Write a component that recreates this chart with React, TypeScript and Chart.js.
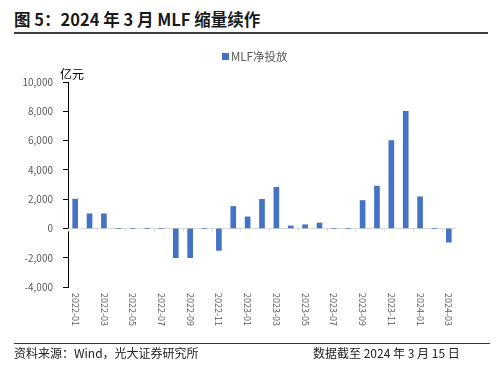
import React, { useEffect, useRef } from "react";
import { Chart, registerables } from "chart.js";

Chart.register(...registerables);

const categories = [
  "2022-01", "2022-02", "2022-03", "2022-04", "2022-05", "2022-06", "2022-07",
  "2022-08", "2022-09", "2022-10", "2022-11", "2022-12",
  "2023-01", "2023-02", "2023-03", "2023-04", "2023-05", "2023-06", "2023-07",
  "2023-08", "2023-09", "2023-10", "2023-11", "2023-12",
  "2024-01", "2024-02", "2024-03",
];
const netInjection = [
  2000, 1000, 1000, 0, 0, 0, 0, -2000, -2000, 0, -1500, 1500,
  790, 1990, 2810, 170, 250, 370, 0, 0, 1910, 2890, 6000, 8000,
  2160, 0, -940,
];
const seriesName = "MLF净投放";
const yMin = -4000;
const yMax = 10000;
const yStep = 2000;

const FONT = '"Noto Sans CJK SC", "Noto Sans", sans-serif';
const BAR_COLOR = "#4472C4";

const xLabelPlugin = {
  id: "xLabels",
  afterDraw(chart: any) {
    const xs = chart.scales.x;
    const ys = chart.scales.y;
    const ctx = chart.ctx;
    const n = categories.length;
    const step = xs.getPixelForValue(1) - xs.getPixelForValue(0);
    const y0 = Math.round(ys.getPixelForValue(0)) + 0.5;
    ctx.save();
    ctx.strokeStyle = "#d9d9d9";
    ctx.lineWidth = 1;
    for (let i = 0; i <= n; i += 2) {
      const px = i < n ? xs.getPixelForValue(i) - step / 2 : chart.chartArea.right;
      const rx = Math.round(px) + 0.5;
      ctx.beginPath();
      ctx.moveTo(rx, y0);
      ctx.lineTo(rx, y0 + 3);
      ctx.stroke();
    }
    ctx.fillStyle = "#595959";
    ctx.font = `9px ${FONT}`;
    ctx.textAlign = "left";
    ctx.textBaseline = "middle";
    for (let i = 0; i < n; i += 2) {
      ctx.save();
      ctx.translate(xs.getPixelForValue(i), chart.chartArea.bottom + 6);
      ctx.rotate(Math.PI / 2);
      ctx.fillText(categories[i], 0, 0);
      ctx.restore();
    }
    ctx.restore();
  },
};

export default function App() {
  const canvasRef = useRef<HTMLCanvasElement | null>(null);

  useEffect(() => {
    const canvas = canvasRef.current;
    if (!canvas) return;
    const chart = new Chart(canvas, {
      type: "bar",
      data: {
        labels: categories,
        datasets: [
          {
            label: seriesName,
            data: netInjection,
            backgroundColor: BAR_COLOR,
            barThickness: 5,
          },
        ],
      },
      options: {
        animation: false,
        responsive: false,
        devicePixelRatio: 1,
        layout: { padding: { top: 82, right: 44, left: 0, bottom: 0 } },
        plugins: {
          legend: { display: false },
          tooltip: { enabled: false },
          title: { display: false },
        },
        scales: {
          x: {
            type: "category",
            offset: true,
            grid: { display: false },
            border: { display: false },
            ticks: { display: false },
            afterFit: (scale: any) => {
              scale.height = 81;
            },
          },
          y: {
            min: yMin,
            max: yMax,
            ticks: {
              stepSize: yStep,
              color: "#595959",
              font: { size: 10, family: FONT },
              padding: 10,
            },
            grid: {
              drawTicks: true,
              tickLength: 5,
              tickColor: "#000000",
              color: (ctx: any) =>
                ctx.tick && ctx.tick.value === 0 ? "#d9d9d9" : "rgba(0,0,0,0)",
            },
            border: { display: true, color: "#000000", width: 1 },
            afterFit: (scale: any) => {
              scale.width = 68;
            },
          },
        },
      },
      plugins: [xLabelPlugin],
    });
    return () => chart.destroy();
  }, []);

  return (
    <div
      style={{
        position: "relative",
        width: 500,
        height: 368,
        background: "#ffffff",
        fontFamily: FONT,
        overflow: "hidden",
      }}
    >
      <style>{`body{margin:0;}`}</style>
      <div
        style={{
          position: "absolute",
          left: 14,
          top: 10,
          fontSize: 16.5,
          lineHeight: "18px",
          fontWeight: 700,
          color: "#1a1a1a",
          whiteSpace: "nowrap",
        }}
      >
        图 5：2024 年 3 月 MLF 缩量续作
      </div>
      <div
        style={{
          position: "absolute",
          left: 14,
          top: 32,
          width: 474,
          height: 2,
          background: "#404040",
        }}
      />
      <canvas
        ref={canvasRef}
        width={500}
        height={368}
        style={{ position: "absolute", left: 0, top: 0, width: 500, height: 368 }}
      />
      <div
        style={{
          position: "absolute",
          left: 222,
          top: 53,
          width: 7,
          height: 7,
          background: BAR_COLOR,
        }}
      />
      <div
        style={{
          position: "absolute",
          left: 231,
          top: 49,
          fontSize: 11.5,
          lineHeight: "14px",
          color: "#595959",
          whiteSpace: "nowrap",
        }}
      >
        {seriesName}
      </div>
      <div
        style={{
          position: "absolute",
          left: 60,
          top: 67,
          fontSize: 12,
          lineHeight: "14px",
          color: "#000000",
          whiteSpace: "nowrap",
        }}
      >
        亿元
      </div>
      <div
        style={{
          position: "absolute",
          left: 14,
          top: 343,
          width: 476,
          height: 1,
          background: "#333333",
        }}
      />
      <div
        style={{
          position: "absolute",
          left: 14,
          top: 345,
          fontSize: 12,
          lineHeight: "15px",
          color: "#222222",
          whiteSpace: "nowrap",
        }}
      >
        资料来源：Wind，光大证券研究所
      </div>
      <div
        style={{
          position: "absolute",
          left: 313,
          top: 345,
          fontSize: 12,
          lineHeight: "15px",
          color: "#222222",
          whiteSpace: "nowrap",
        }}
      >
        数据截至 2024 年 3 月 15 日
      </div>
    </div>
  );
}
